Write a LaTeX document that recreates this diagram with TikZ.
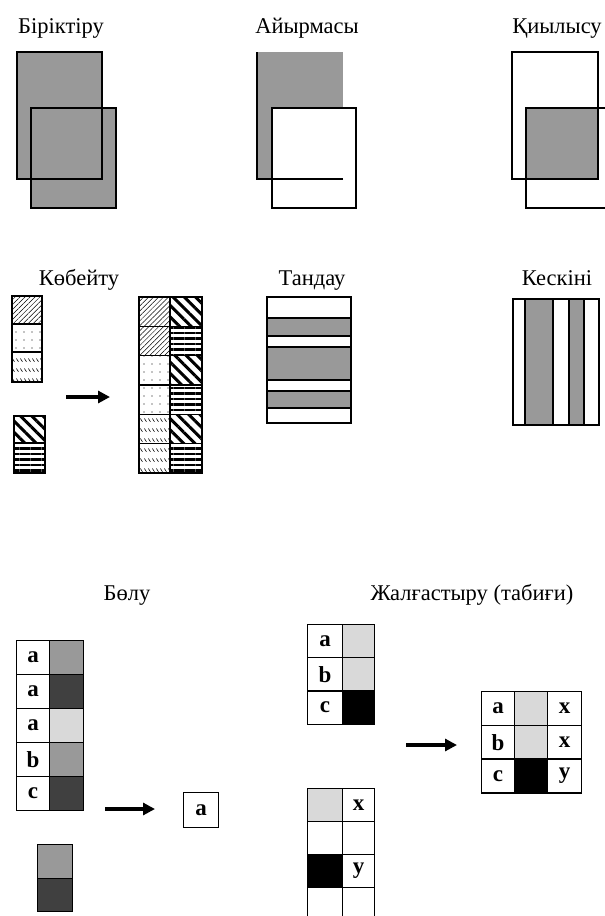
\documentclass[tikz,border=0pt]{standalone}
\usepackage{fontspec}
\setmainfont{Liberation Serif}
\usetikzlibrary{arrows.meta,calc,positioning,patterns.meta}

\definecolor{midgray}{gray}{0.6}
\definecolor{lightgray}{gray}{0.85}
\definecolor{darkgray}{gray}{0.25}

\tikzdeclarepattern{
  name=smalldash,
  bounding box={(0pt,0pt) and (4pt,10pt)},
  tile size={(4pt,10pt)},
  code={\draw[line width=0.7pt] (0.5pt,8pt) -- (3pt,4.5pt);}
}

\tikzset{
  lbl/.style={font=\fontsize{22.5}{26}\selectfont, anchor=base},
  setbox/.style={draw, line width=1.1pt},
  cell/.style={draw, line width=1.1pt, minimum width=34pt, minimum height=33pt,
    inner sep=0pt, anchor=north west, font=\fontsize{23}{23}\selectfont\bfseries},
  bigarrow/.style={line width=3.5pt, -{Triangle[length=12pt,width=12pt]}},
  hatchA/.style={pattern={Lines[angle=45,distance=3.5pt,line width=0.5pt]}},
  dotsA/.style={pattern={Dots[distance=8pt,radius=0.7pt]}},
  dashA/.style={pattern=smalldash},
  stripeA/.style={pattern={Lines[angle=-45,distance=8pt,line width=3pt]}},
  stripeB/.style={pattern={Lines[angle=0,distance=5.5pt,line width=2.6pt]}},
}

\begin{document}
\begin{tikzpicture}[x=1pt,y=-1pt]
        \useasboundingbox (0,0) rectangle (605,916);
        \clip (0,0) rectangle (605,916);

        % titles
        \node[lbl] (union) at (61,33) {Біріктіру};
        \node[lbl] (diff) at (307,33) {Айырмасы};
        \node[lbl] (inter) at (557,33) {Қиылысу};
        \node[lbl] (prod) at (79,285) {Көбейту};
        \node[lbl] (sel) at (312,285) {Тандау};
        \node[lbl] (proj) at (557,285) {Кескіні};
        \node[lbl] (divi) at (127,600) {Бөлу};
        \node[lbl] (join) at (472,600) {Жалғастыру (табиғи)};

        % union
        \fill[midgray] (17,52) rectangle (102,179);
        \fill[midgray] (31,108) rectangle (116,208);
        \draw[setbox] (17,52) rectangle (102,179);
        \draw[setbox] (31,108) rectangle (116,208);

        % difference
        \fill[midgray] (257,52) rectangle (343,179);
        \draw[setbox, fill=white] (272,108) rectangle (356,208);
        \draw[setbox] (343,179) -- (257,179) -- (257,52);

        % intersection
        \fill[midgray] (526,108) rectangle (598,179);
        \draw[setbox] (512,52) rectangle (598,179);
        \draw[setbox] (526,108) rectangle (612,208);

        % product
        \draw[setbox, hatchA] (12,296) rectangle (42,324);
        \draw[setbox, dotsA] (12,324) rectangle (42,352);
        \draw[setbox, dashA] (12,352) rectangle (42,382);
        \draw[setbox, stripeA] (14,416) rectangle (45,443);
        \draw[setbox, stripeB] (14,443) rectangle (45,473);

        \foreach \i/\p in {0/hatchA,1/hatchA,2/dotsA,3/dotsA,4/dashA,5/dashA} {
            \draw[setbox, \p] (139,{297+29.33*\i}) rectangle (170,{297+29.33*(\i+1)});
        }
        \foreach \i in {0,2,4} {
            \draw[setbox, stripeA] (170,{297+29.33*\i}) rectangle (202,{297+29.33*(\i+1)});
            \draw[setbox, stripeB] (170,{297+29.33*(\i+1)}) rectangle (202,{297+29.33*(\i+2)});
        }

        \coordinate (prodS) at (66,397);
        \coordinate (prodE) at (110,397);
        \draw[bigarrow] (prodS) -- (prodE);

        % selection
        \draw[setbox] (267,297) rectangle (351,423);
        \draw[setbox, fill=midgray] (267,318) rectangle (351,336);
        \draw[setbox, fill=midgray] (267,347) rectangle (351,380);
        \draw[setbox, fill=midgray] (267,391) rectangle (351,408);

        % projection
        \draw[setbox] (513,299) rectangle (599,425);
        \draw[setbox, fill=midgray] (525,299) rectangle (553,425);
        \draw[setbox, fill=midgray] (569,299) rectangle (584,425);

        % division
        \foreach \i/\l/\c in {0/a/midgray,1/a/darkgray,2/a/lightgray,3/b/midgray,4/c/darkgray} {
            \node[cell, minimum width=33pt, minimum height=34pt] (dl\i) at (16,{640+34*\i}) {\l};
            \node[cell, fill=\c, minimum height=34pt] (dr\i) at (49,{640+34*\i}) {};
        }
        \node[cell, fill=midgray, minimum width=35pt, minimum height=34pt] (dq1) at (37,844) {};
        \node[cell, fill=darkgray, minimum width=35pt, minimum height=33pt] (dq2) at (37,878) {};
        \node[cell, minimum width=35pt, minimum height=35pt] (dres) at (183,792) {a};

        \coordinate (diviS) at (105,809);
        \coordinate (diviE) at (155,809);
        \draw[bigarrow] (diviS) -- (diviE);

        % natural join
        \foreach \i/\l/\c in {0/a/lightgray,1/b/lightgray,2/c/black} {
            \node[cell, minimum width=35pt] (jl\i) at (307,{624+33.3*\i}) {\l};
            \node[cell, fill=\c, minimum width=32pt] (jr\i) at (342,{624+33.3*\i}) {};
        }
        \foreach \i/\c/\l in {0/lightgray/x,1/white/,2/black/y,3/white/} {
            \node[cell, fill=\c, minimum width=35pt] (kl\i) at (307,{788+33*\i}) {};
            \node[cell, minimum width=32pt] (kr\i) at (342,{788+33*\i}) {\l};
        }
        \foreach \i/\l/\c/\r in {0/a/lightgray/x,1/b/lightgray/x,2/c/black/y} {
            \node[cell, minimum height=34pt, minimum width=33pt] (rl\i) at (481,{691+33.7*\i}) {\l};
            \node[cell, fill=\c, minimum height=34pt, minimum width=33pt] (rm\i) at (514,{691+33.7*\i}) {};
            \node[cell, minimum height=34pt, minimum width=34pt] (rr\i) at (547,{691+33.7*\i}) {\r};
        }

        \coordinate (joinS) at (406,745);
        \coordinate (joinE) at (457,745);
        \draw[bigarrow] (joinS) -- (joinE);
\end{tikzpicture}
\end{document}
